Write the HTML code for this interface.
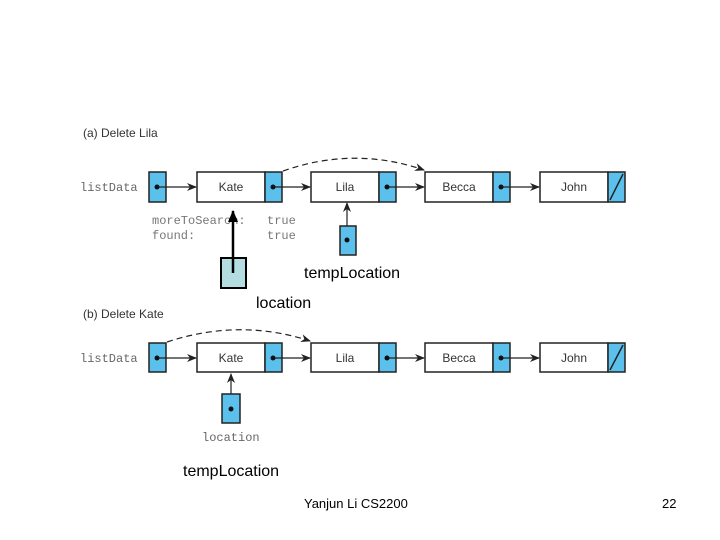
<!DOCTYPE html>
<html><head><meta charset="utf-8"><style>
html,body{margin:0;padding:0;background:#fff;width:720px;height:540px;overflow:hidden}
</style></head><body>
<svg width="720" height="540" xmlns="http://www.w3.org/2000/svg">
<defs>
<marker id="ah" markerWidth="10" markerHeight="8" refX="9" refY="4" orient="auto" markerUnits="userSpaceOnUse">
<path d="M0,0 L10,4 L0,8 L3,4 Z" fill="#222"/></marker>
<marker id="ahb" markerWidth="12" markerHeight="10" refX="11" refY="5" orient="auto" markerUnits="userSpaceOnUse">
<path d="M0,0 L12,5 L0,10 Z" fill="#000"/></marker>
</defs>
<g font-family="Liberation Sans, sans-serif">
<text x="83" y="137" font-size="12" fill="#333">(a) Delete Lila</text>
<text x="83" y="318" font-size="12" fill="#333">(b) Delete Kate</text>
</g>
<g stroke="#222" stroke-width="1.5">
<rect x="149" y="172" width="17" height="30" fill="#5bc0eb"/>
<rect x="197" y="172" width="68" height="30" fill="#fff"/><rect x="265" y="172" width="17" height="30" fill="#5bc0eb"/>
<rect x="311" y="172" width="68" height="30" fill="#fff"/><rect x="379" y="172" width="17" height="30" fill="#5bc0eb"/>
<rect x="425" y="172" width="68" height="30" fill="#fff"/><rect x="493" y="172" width="17" height="30" fill="#5bc0eb"/>
<rect x="540" y="172" width="68" height="30" fill="#fff"/><rect x="608" y="172" width="17" height="30" fill="#5bc0eb"/>
<line x1="610" y1="200" x2="623" y2="174"/>
<g stroke-width="1.2" marker-end="url(#ah)">
<line x1="157" y1="187" x2="196" y2="187"/><line x1="273" y1="187" x2="310" y2="187"/>
<line x1="387" y1="187" x2="424" y2="187"/><line x1="501" y1="187" x2="539" y2="187"/>
<line x1="347" y1="240" x2="347" y2="203"/>
</g>
<path d="M283,171 Q354,146 424,170" fill="none" stroke-dasharray="6,4" stroke-width="1.2" marker-end="url(#ah)"/>
<rect x="340" y="226" width="16" height="29" fill="#5bc0eb"/>
</g>
<g font-family="Liberation Mono, monospace" font-size="12" fill="#777">
<text x="152" y="224">moreToSearch:</text><text x="267" y="224">true</text>
<text x="152" y="239">found:</text><text x="267" y="239">true</text>
</g>
<rect x="221" y="258" width="25" height="30" fill="#b3dde0" stroke="#000" stroke-width="2"/>
<line x1="233" y1="273" x2="233" y2="211" stroke="#000" stroke-width="2.5" marker-end="url(#ahb)"/>
<g fill="#111"><circle cx="157" cy="187" r="2.5"/><circle cx="273" cy="187" r="2.5"/><circle cx="387" cy="187" r="2.5"/><circle cx="501" cy="187" r="2.5"/><circle cx="347" cy="240" r="2.5"/></g>
<g stroke="#222" stroke-width="1.5">
<rect x="149" y="343" width="17" height="29" fill="#5bc0eb"/>
<rect x="197" y="343" width="68" height="29" fill="#fff"/><rect x="265" y="343" width="17" height="29" fill="#5bc0eb"/>
<rect x="311" y="343" width="68" height="29" fill="#fff"/><rect x="379" y="343" width="17" height="29" fill="#5bc0eb"/>
<rect x="425" y="343" width="68" height="29" fill="#fff"/><rect x="493" y="343" width="17" height="29" fill="#5bc0eb"/>
<rect x="540" y="343" width="68" height="29" fill="#fff"/><rect x="608" y="343" width="17" height="29" fill="#5bc0eb"/>
<line x1="610" y1="370" x2="623" y2="345"/>
<g stroke-width="1.2" marker-end="url(#ah)">
<line x1="157" y1="358" x2="196" y2="358"/><line x1="273" y1="358" x2="310" y2="358"/>
<line x1="387" y1="358" x2="424" y2="358"/><line x1="501" y1="358" x2="539" y2="358"/>
<line x1="231" y1="409" x2="231" y2="374"/>
</g>
<path d="M167,342 Q240,318 310,341" fill="none" stroke-dasharray="6,4" stroke-width="1.2" marker-end="url(#ah)"/>
<rect x="222" y="394" width="18" height="29" fill="#5bc0eb"/>
</g>
<g fill="#111"><circle cx="157" cy="358" r="2.5"/><circle cx="273" cy="358" r="2.5"/><circle cx="387" cy="358" r="2.5"/><circle cx="501" cy="358" r="2.5"/><circle cx="231" cy="409" r="2.5"/></g>
<g font-family="Liberation Sans, sans-serif" font-size="12" fill="#333" text-anchor="middle">
<text x="231" y="191">Kate</text><text x="345" y="191">Lila</text><text x="459" y="191">Becca</text><text x="574" y="191">John</text>
<text x="231" y="362">Kate</text><text x="345" y="362">Lila</text><text x="459" y="362">Becca</text><text x="574" y="362">John</text>
</g>
<g font-family="Liberation Mono, monospace" font-size="12" fill="#666">
<text x="80" y="191">listData</text><text x="80" y="362">listData</text>
<text x="202" y="441">location</text>
</g>
<g font-family="Liberation Sans, sans-serif" fill="#000">
<text x="304" y="278" font-size="16">tempLocation</text>
<text x="256" y="308" font-size="16">location</text>
<text x="183" y="476" font-size="16">tempLocation</text>
<text x="304" y="508" font-size="13">Yanjun Li CS2200</text>
<text x="662" y="508" font-size="13">22</text>
</g>
</svg>
</body></html>
